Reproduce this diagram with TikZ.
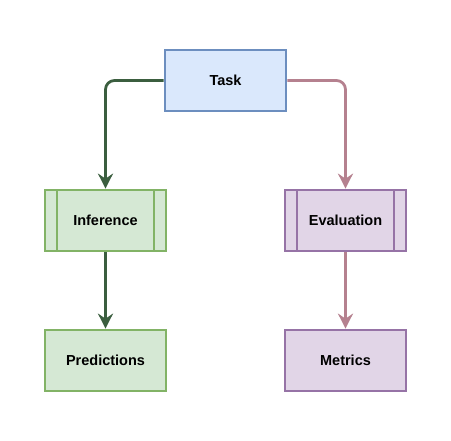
\documentclass[tikz,border=0pt]{standalone}
\usepackage{fontspec}
\setmainfont{Liberation Sans}
\usetikzlibrary{arrows.meta}
\definecolor{taskfill}{HTML}{DAE8FC}
\definecolor{taskdraw}{HTML}{6C8EBF}
\definecolor{grfill}{HTML}{D5E8D4}
\definecolor{grdraw}{HTML}{82B366}
\definecolor{pufill}{HTML}{E1D5E7}
\definecolor{pudraw}{HTML}{9673A6}
\definecolor{gredge}{HTML}{3B5E3F}
\definecolor{puedge}{HTML}{B5818F}
\tikzset{
  box/.style={rectangle, minimum width=121pt, minimum height=61pt, line width=2.7pt, inner sep=0pt,
    font=\fontsize{14.5}{16}\selectfont\bfseries},
  taskbox/.style={box, draw=taskdraw, fill=taskfill},
  grbox/.style={box, draw=grdraw, fill=grfill},
  pubox/.style={box, draw=pudraw, fill=pufill},
  proc/.style={path picture={
    \draw[line width=2.7pt, draw=#1] ([xshift=12pt]path picture bounding box.north west) -- ([xshift=12pt]path picture bounding box.south west);
    \draw[line width=2.7pt, draw=#1] ([xshift=-12pt]path picture bounding box.north east) -- ([xshift=-12pt]path picture bounding box.south east);
  }},
  conn/.style={line width=2.8pt, rounded corners=9pt, -{Stealth[length=15pt, width=15pt, inset=5pt]}},
}
\begin{document}
\begin{tikzpicture}[x=1pt, y=-1pt]
\useasboundingbox (0,0) rectangle (451,441);
\node[taskbox] (task) at (225.5,80.5) {Task};
\node[grbox, proc=grdraw] (inf) at (105.5,220.5) {Inference};
\node[pubox, proc=pudraw] (eval) at (345.5,220.5) {Evaluation};
\node[grbox] (pred) at (105.5,360.5) {Predictions};
\node[pubox] (met) at (345.5,360.5) {Metrics};
\draw[conn, draw=gredge] (task.west) -| (inf.north);
\draw[conn, draw=puedge] (task.east) -| (eval.north);
\draw[conn, draw=gredge] (inf.south) -- (pred.north);
\draw[conn, draw=puedge] (eval.south) -- (met.north);
\end{tikzpicture}
\end{document}
